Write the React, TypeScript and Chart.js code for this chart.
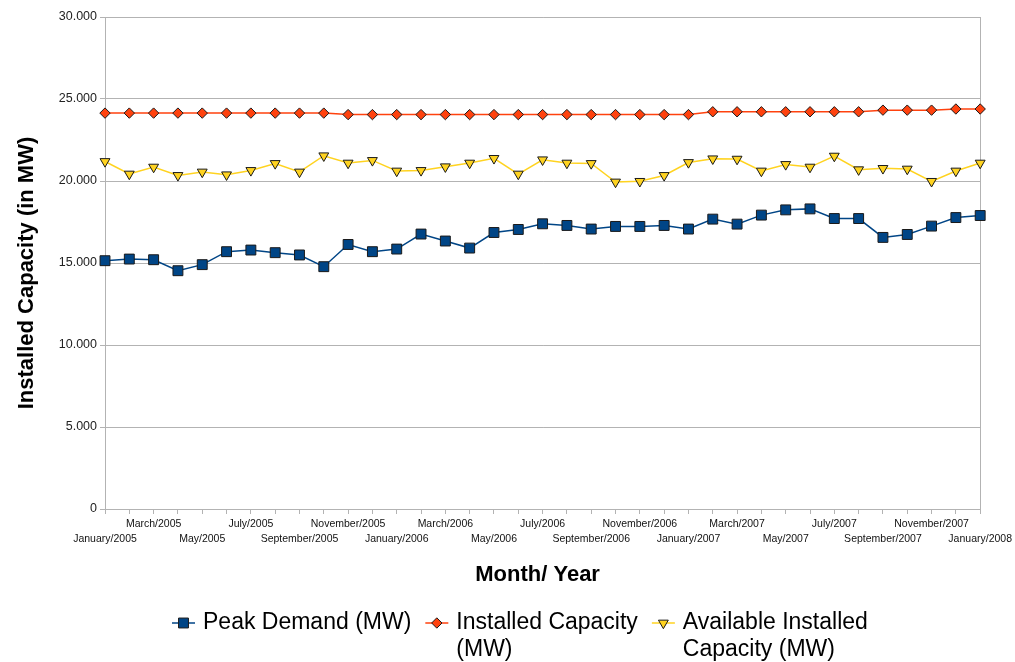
import React, { useEffect, useRef } from 'react';
import { Chart, registerables } from 'chart.js';
import { drawPoint } from 'chart.js/helpers';

Chart.register(...registerables);

const months: string[] = [
  'January/2005', 'February/2005', 'March/2005', 'April/2005', 'May/2005', 'June/2005',
  'July/2005', 'August/2005', 'September/2005', 'October/2005', 'November/2005', 'December/2005',
  'January/2006', 'February/2006', 'March/2006', 'April/2006', 'May/2006', 'June/2006',
  'July/2006', 'August/2006', 'September/2006', 'October/2006', 'November/2006', 'December/2006',
  'January/2007', 'February/2007', 'March/2007', 'April/2007', 'May/2007', 'June/2007',
  'July/2007', 'August/2007', 'September/2007', 'October/2007', 'November/2007', 'December/2007',
  'January/2008',
];

const peakDemand: number[] = [
  15140, 15240, 15200, 14530, 14900, 15690, 15790, 15630, 15490, 14775, 16130, 15690,
  15850, 16765, 16340, 15910, 16860, 17045, 17390, 17290, 17070, 17230, 17230, 17290,
  17070, 17675, 17370, 17920, 18240, 18300, 17710, 17710, 16560, 16740, 17250, 17770,
  17895,
];

const installedCapacity: number[] = [
  24140, 24140, 24140, 24140, 24140, 24140, 24140, 24140, 24140, 24140, 24050, 24050,
  24050, 24050, 24050, 24050, 24050, 24050, 24050, 24050, 24050, 24050, 24050, 24050,
  24050, 24220, 24220, 24220, 24220, 24220, 24220, 24220, 24320, 24320, 24320, 24390,
  24390,
];

const availableCapacity: number[] = [
  21190, 20425, 20850, 20340, 20550, 20380, 20645, 21070, 20550, 21540, 21095, 21255,
  20610, 20645, 20870, 21095, 21380, 20425, 21295, 21095, 21070, 19940, 19980, 20340,
  21130, 21355, 21335, 20610, 21010, 20850, 21520, 20690, 20770, 20730, 19980, 20610,
  21095,
];

const seriesNames: string[] = ['Peak Demand (MW)', 'Installed Capacity (MW)', 'Available Installed Capacity (MW)'];
const legendLines: string[][] = [
  ['Peak Demand (MW)'],
  ['Installed Capacity', '(MW)'],
  ['Available Installed', 'Capacity (MW)'],
];

const xAxisTitle = 'Month/ Year';
const yAxisTitle = 'Installed Capacity (in MW)';

const FONT = '"Liberation Sans", Arial, sans-serif';
const GRID = '#b3b3b3';

function formatThousands(v: number): string {
  if (v === 0) return '0';
  const th = Math.floor(v / 1000);
  const rest = String(Math.round(v % 1000)).padStart(3, '0');
  return th + '.' + rest;
}

const decorPlugin = {
  id: 'decor',
  afterDraw(chart: any) {
    const ctx: CanvasRenderingContext2D = chart.ctx;
    const area = chart.chartArea;
    ctx.save();
    // axis titles
    ctx.fillStyle = '#000';
    ctx.font = 'bold 22px ' + FONT;
    ctx.textAlign = 'center';
    ctx.textBaseline = 'middle';
    ctx.fillText(xAxisTitle, (area.left + area.right) / 2 - 5, 574.5);
    ctx.save();
    ctx.translate(26.5, (area.top + area.bottom) / 2 + 10);
    ctx.rotate(-Math.PI / 2);
    ctx.fillText(yAxisTitle, 0, 0);
    ctx.restore();

    // legend
    ctx.font = '23px ' + FONT;
    ctx.textAlign = 'left';
    ctx.textBaseline = 'middle';
    let x = 172;
    const y = 623;
    chart.data.datasets.forEach((ds: any, i: number) => {
      const lines = legendLines[i];
      ctx.strokeStyle = ds.borderColor;
      ctx.lineWidth = 1.5;
      ctx.beginPath();
      ctx.moveTo(x, y);
      ctx.lineTo(x + 23, y);
      ctx.stroke();
      ctx.fillStyle = ds.pointBackgroundColor;
      ctx.strokeStyle = ds.pointBorderColor;
      ctx.lineWidth = 1;
      drawPoint(ctx, {
        pointStyle: ds.pointStyle,
        rotation: ds.pointRotation || 0,
        radius: ds.pointRadius,
        borderWidth: 1,
      } as any, x + 11.5, y);
      ctx.fillStyle = '#000';
      lines.forEach((t, j) => ctx.fillText(t, x + 31, y + j * 27));
      const w = Math.max(...lines.map((t) => ctx.measureText(t).width));
      x += 31 + w + 14;
    });
    ctx.restore();
  },
};

export default function App() {
  const canvasRef = useRef<HTMLCanvasElement | null>(null);

  useEffect(() => {
    if (!canvasRef.current) return;
    const last = months.length - 1;
    const chart = new Chart(canvasRef.current, {
      type: 'line',
      data: {
        labels: months,
        datasets: [
          {
            label: seriesNames[0],
            data: peakDemand,
            borderColor: '#004586',
            backgroundColor: '#004586',
            pointBackgroundColor: '#004586',
            pointBorderColor: '#1a1a1a',
            pointStyle: 'rect',
            pointRadius: 7,
            pointBorderWidth: 1,
            borderWidth: 1.5,
            tension: 0,
          },
          {
            label: seriesNames[1],
            data: installedCapacity,
            borderColor: '#ff420e',
            backgroundColor: '#ff420e',
            pointBackgroundColor: '#ff420e',
            pointBorderColor: '#1a1a1a',
            pointStyle: 'rectRot',
            pointRadius: 5.2,
            pointBorderWidth: 1,
            borderWidth: 1.5,
            tension: 0,
          },
          {
            label: seriesNames[2],
            data: availableCapacity,
            borderColor: '#ffd320',
            backgroundColor: '#ffd320',
            pointBackgroundColor: '#ffd320',
            pointBorderColor: '#1a1a1a',
            pointStyle: 'triangle',
            pointRotation: 180,
            pointRadius: 5.7,
            pointBorderWidth: 1,
            borderWidth: 1.5,
            tension: 0,
          },
        ] as any,
      },
      options: {
        responsive: false,
        animation: false,
        events: [],
        layout: { padding: { left: 0, top: 17, right: 34, bottom: 0 } },
        plugins: {
          legend: { display: false },
          tooltip: { enabled: false },
          title: { display: false },
        },
        scales: {
          x: {
            type: 'category',
            offset: false,
            afterFit: (s: any) => { s.height = 153; },
            grid: {
              drawOnChartArea: true,
              drawTicks: true,
              tickLength: 5,
              color: (c: any) => (c.index === last ? GRID : 'rgba(0,0,0,0)'),
              tickColor: GRID,
              lineWidth: 1,
            },
            border: { display: true, color: GRID, width: 1 },
            ticks: {
              autoSkip: false,
              maxRotation: 0,
              minRotation: 0,
              padding: 3,
              color: '#111',
              font: { family: FONT, size: 10.5, lineHeight: '15px' } as any,
              callback: (_v: any, index: number) => {
                if (index % 4 === 0) return ['', months[index]];
                if (index % 4 === 2) return months[index];
                return '';
              },
            },
          },
          y: {
            min: 0,
            max: 30000,
            afterFit: (s: any) => { s.width = 105; },
            grid: {
              color: GRID,
              tickColor: GRID,
              tickLength: 5,
              lineWidth: 1,
            },
            border: { display: true, color: GRID, width: 1 },
            ticks: {
              stepSize: 5000,
              padding: 3,
              color: '#222',
              font: { family: FONT, size: 12.5 },
              callback: (v: any) => formatThousands(Number(v)),
            },
          },
        },
      } as any,
      plugins: [decorPlugin],
    });
    return () => chart.destroy();
  }, []);

  return (
    <div style={{ position: 'absolute', left: 0, top: 0, width: 1015, height: 662, background: '#fff' }}>
      <canvas ref={canvasRef} width={1015} height={662} />
    </div>
  );
}
